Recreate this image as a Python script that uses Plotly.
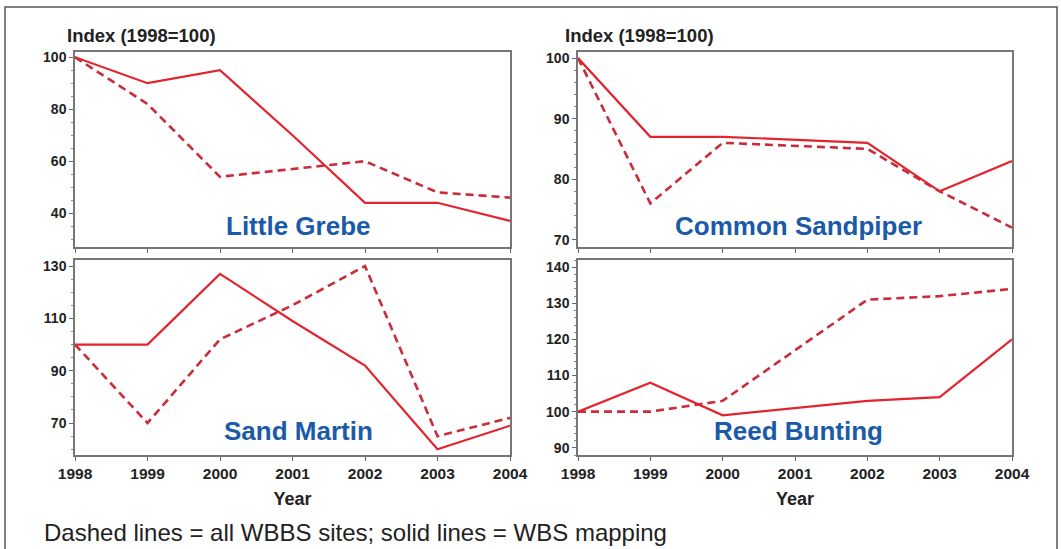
import plotly.graph_objects as go

years = [1998, 1999, 2000, 2001, 2002, 2003, 2004]

species = ["Little Grebe", "Common Sandpiper", "Sand Martin", "Reed Bunting"]

little_grebe_wbs = [100, 90, 95, 70, 44, 44, 37]
little_grebe_wbbs = [100, 82, 54, 57, 60, 48, 46]

common_sandpiper_wbs = [100, 87, 87, 86.5, 86, 78, 83]
common_sandpiper_wbbs = [100, 76, 86, 85.5, 85, 78, 72]

sand_martin_wbs = [100, 100, 127, 109, 92, 60, 69]
sand_martin_wbbs = [100, 70, 102, 115, 130, 65, 72]

reed_bunting_wbs = [100, 108, 99, 101, 103, 104, 120]
reed_bunting_wbbs = [100, 100, 103, 117, 131, 132, 134]

series = [
    (little_grebe_wbs, little_grebe_wbbs),
    (common_sandpiper_wbs, common_sandpiper_wbbs),
    (sand_martin_wbs, sand_martin_wbbs),
    (reed_bunting_wbs, reed_bunting_wbbs),
]

y_ranges = [[27, 102], [68.8, 101], [57.8, 132.3], [88, 142]]
y_ticks = [[40, 60, 80, 100], [70, 80, 90, 100], [70, 90, 110, 130], [90, 100, 110, 120, 130, 140]]
y_minor = [5, 2, 5, 2]

W, H = 1061, 549
xdom = [[75 / W, 510 / W], [578 / W, 1012 / W], [75 / W, 510 / W], [578 / W, 1012 / W]]
ydom = [[1 - 247 / H, 1 - 52 / H], [1 - 247 / H, 1 - 52 / H],
        [1 - 455 / H, 1 - 260 / H], [1 - 455 / H, 1 - 260 / H]]

FONT = "Liberation Sans, Arial, sans-serif"
RED_SOLID = "#e3232d"
RED_DASH = "#c92c3a"

fig = go.Figure()
layout = {}
for i in range(4):
    n = "" if i == 0 else str(i + 1)
    xa, ya = "x" + n, "y" + n
    wbs, wbbs = series[i]
    fig.add_trace(go.Scatter(x=years, y=wbbs, mode="lines", xaxis=xa, yaxis=ya,
                             line=dict(color=RED_DASH, width=2.6, dash="8px,5px"),
                             name="All WBBS sites", showlegend=False))
    fig.add_trace(go.Scatter(x=years, y=wbs, mode="lines", xaxis=xa, yaxis=ya,
                             line=dict(color=RED_SOLID, width=2.2),
                             name="WBS mapping", showlegend=False))
    bottom = i >= 2
    layout["xaxis" + n] = dict(
        domain=xdom[i], anchor=ya, range=[1998, 2004], tickvals=years,
        ticktext=[str(y) for y in years], automargin=False,
        showticklabels=bottom, ticks="outside", ticklen=4, tickcolor="#666",
        showline=True, mirror=True, linecolor="#777", linewidth=1.5,
        showgrid=False, zeroline=False,
        tickfont=dict(family=FONT, size=15.5, color="#222", weight="bold"),
        title=dict(text="<b>Year</b>" if bottom else "",
                   font=dict(family=FONT, size=18, color="#222"), standoff=11),
    )
    layout["yaxis" + n] = dict(
        domain=ydom[i], anchor=xa, range=y_ranges[i], tickvals=y_ticks[i],
        ticks="outside", ticklen=4, tickcolor="#666", automargin=False,
        minor=dict(dtick=y_minor[i], ticks="outside", ticklen=2, tickcolor="#888"),
        showline=True, mirror=True, linecolor="#777", linewidth=1.5,
        showgrid=False, zeroline=False,
        tickfont=dict(family=FONT, size=14, color="#222", weight="bold"),
    )

fig.update_layout(width=W, height=H, margin=dict(l=0, r=0, t=0, b=0, autoexpand=False),
                  paper_bgcolor="white", plot_bgcolor="white", **layout)

annotations = []
label_pos = [(298, 226), (798, 226), (298, 431), (798, 431)]
for name, (px, py) in zip(species, label_pos):
    annotations.append(dict(x=px / W, y=1 - py / H, xref="paper", yref="paper",
                            text="<b>" + name + "</b>", showarrow=False,
                            font=dict(family=FONT, size=26, color="#1b5aa8"),
                            xanchor="center", yanchor="middle"))
for px in (65, 563):
    annotations.append(dict(x=px / W, y=1 - 35 / H, xref="paper", yref="paper",
                            text="<b>Index (1998=100)</b>", showarrow=False,
                            font=dict(family=FONT, size=18.5, color="#222"),
                            xanchor="left", yanchor="middle"))
annotations.append(dict(x=42 / W, y=1 - 532 / H, xref="paper", yref="paper",
                        text="Dashed lines = all WBBS sites; solid lines = WBS mapping",
                        showarrow=False,
                        font=dict(family=FONT, size=24, color="#222"),
                        xanchor="left", yanchor="middle"))
fig.update_layout(annotations=annotations)

fig.add_shape(type="rect", xref="paper", yref="paper",
              x0=5 / W, x1=1057 / W, y0=-0.05, y1=1 - 7 / H,
              line=dict(color="#555", width=1.5), fillcolor="rgba(0,0,0,0)")

fig.write_html("out.html", config={"responsive": False, "displayModeBar": False},
               post_script="document.body.style.margin='0px';document.body.style.overflow='hidden';")
